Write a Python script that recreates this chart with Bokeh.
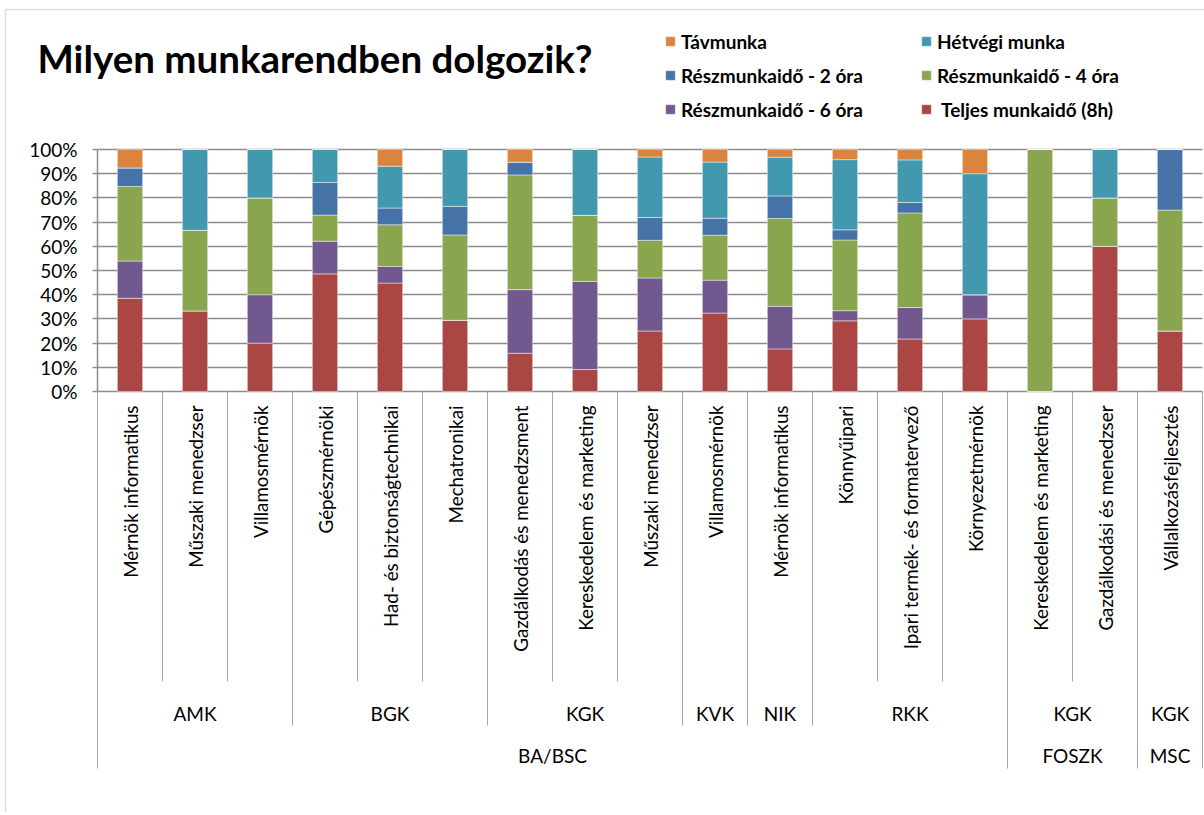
import math
from bokeh.plotting import figure
from bokeh.models import (ColumnDataSource, Range1d, FixedTicker, PrintfTickFormatter,
                          Legend, LegendItem, Label, BoxAnnotation)
from bokeh.core.properties import value
from bokeh.embed import file_html
from bokeh.resources import INLINE

# ---------------- data ----------------
programs = ["BA/BSC"] * 14 + ["FOSZK"] * 2 + ["MSC"]
faculties = ["AMK", "AMK", "AMK", "BGK", "BGK", "BGK", "KGK", "KGK", "KGK",
             "KVK", "NIK", "RKK", "RKK", "RKK", "KGK", "KGK", "KGK"]
majors = ["Mérnök informatikus", "Műszaki menedzser", "Villamosmérnök",
          "Gépészmérnöki", "Had- és biztonságtechnikai", "Mechatronikai",
          "Gazdálkodás és menedzsment", "Kereskedelem és marketing", "Műszaki menedzser",
          "Villamosmérnök", "Mérnök informatikus",
          "Könnyűipari", "Ipari termék- és formatervező", "Környezetmérnök",
          "Kereskedelem és marketing", "Gazdálkodási és menedzser", "Vállalkozásfejlesztés"]

# percentages, stacked bottom -> top
teljes = [38.5, 33.3, 20.0, 48.6, 44.8, 29.4, 15.8, 9.1, 25.0, 32.4, 17.6, 29.2, 21.7, 30.0, 0.0, 60.0, 25.0]
ora6 = [15.4, 0.0, 20.0, 13.5, 6.9, 0.0, 26.3, 36.4, 21.9, 13.6, 17.6, 4.2, 13.0, 10.0, 0.0, 0.0, 0.0]
ora4 = [30.8, 33.3, 40.0, 10.8, 17.2, 35.3, 47.4, 27.3, 15.6, 18.6, 36.3, 29.2, 39.1, 0.0, 100.0, 20.0, 50.0]
ora2 = [7.7, 0.0, 0.0, 13.5, 6.9, 11.8, 5.3, 0.0, 9.4, 7.0, 9.3, 4.2, 4.3, 0.0, 0.0, 0.0, 25.0]
hetvegi = [0.0, 33.4, 20.0, 13.6, 17.3, 23.5, 0.0, 27.2, 25.0, 23.2, 16.0, 29.0, 17.6, 50.0, 0.0, 20.0, 0.0]
tavmunka = [7.6, 0.0, 0.0, 0.0, 6.9, 0.0, 5.2, 0.0, 3.1, 5.2, 3.2, 4.2, 4.3, 10.0, 0.0, 0.0, 0.0]

series_keys = ["teljes", "ora6", "ora4", "ora2", "hetvegi", "tavmunka"]
series_labels = [" Teljes munkaidő (8h)", "Részmunkaidő - 6 óra", "Részmunkaidő - 4 óra",
                 "Részmunkaidő - 2 óra", "Hétvégi munka", "Távmunka"]
series_colors = ["#AA4643", "#71588F", "#89A54E", "#4572A7", "#4198AF", "#DB843D"]

y_ticks = list(range(0, 101, 10))

# ---------------- layout constants (pixels) ----------------
W, H = 1204, 812
AXIS_X = 97            # canvas x of the value axis (left edge of first category)
CAT_W = 65             # pixels per category
TOP_Y = 149            # canvas y of 100%
ZERO_Y = 391           # canvas y of 0%
PPP = (ZERO_Y - TOP_Y) / 100  # pixels per percent

FONT = "Lato"
GRID = "#8c8c8c"
SEP = "#a6a6a6"

n = len(majors)
x_range = Range1d(-AXIS_X / CAT_W, (W - AXIS_X) / CAT_W)
y_range = Range1d(-(H - ZERO_Y) / PPP, 100 + TOP_Y / PPP)

p = figure(width=W, height=H, x_range=x_range, y_range=y_range,
           output_backend="svg", toolbar_location=None, x_axis_location=None,
           min_border_left=0, min_border_top=0, min_border_right=0, min_border_bottom=0)
p.outline_line_color = None
p.background_fill_color = "white"
p.border_fill_color = "white"

ticker = FixedTicker(ticks=y_ticks)
yax = p.yaxis[0]
yax.fixed_location = 0
yax.ticker = ticker
yax.formatter = PrintfTickFormatter(format="%d%%")
yax.bounds = (0, 100)
yax.axis_line_color = GRID
yax.axis_line_width = 1.5
yax.major_tick_line_color = GRID
yax.major_tick_line_width = 1.5
yax.major_tick_out = 5
yax.major_tick_in = 0
yax.minor_tick_line_color = None
yax.major_label_standoff = 15
yax.major_label_text_font = FONT
yax.major_label_text_font_size = "19px"
yax.major_label_text_color = "black"

p.ygrid.ticker = ticker
p.ygrid.bounds = (0, 100)
p.ygrid.cross_bounds = (0, n)
p.ygrid.grid_line_color = GRID
p.ygrid.grid_line_width = 1.5
p.xgrid.visible = False

# ---------------- outer chart border ----------------
p.add_layout(BoxAnnotation(left=5, right=W + 10, top=H - 9, bottom=-10,
                           left_units="screen", right_units="screen",
                           top_units="screen", bottom_units="screen",
                           fill_alpha=0, line_color="#8c8c8c", line_width=1.5))

# ---------------- bars ----------------
data = dict(x=[i + 0.5 for i in range(n)], teljes=teljes, ora6=ora6, ora4=ora4,
            ora2=ora2, hetvegi=hetvegi, tavmunka=tavmunka)
src = ColumnDataSource(data)
rs = p.vbar_stack(series_keys, x="x", width=0.39, source=src,
                  fill_color=series_colors, line_color="white", line_alpha=0.45, line_width=1)

# ---------------- category axis (multi-level, drawn like Excel) ----------------
lab_src = ColumnDataSource(dict(x=[i + 0.5 for i in range(n)], text=majors))
p.text(x="x", y=0, text="text", source=lab_src, angle=math.pi / 2,
       text_align="right", text_baseline="middle", y_offset=14,
       text_font=value(FONT), text_font_size="18.8px", text_color="black")


def runs(keys):
    out = []
    start = 0
    for i in range(1, n + 1):
        if i == n or keys[i] != keys[start]:
            out.append((start, i, keys[start]))
            start = i
    return out


fac_keys = list(zip(programs, faculties))
fac_runs = runs(fac_keys)
prog_runs = runs(programs)

g_src = ColumnDataSource(dict(x=[(a + b) / 2 for a, b, _ in fac_runs],
                              text=[k[1] for _, _, k in fac_runs]))
p.text(x="x", y=0, text="text", source=g_src, y_offset=322,
       text_align="center", text_baseline="middle",
       text_font=value(FONT), text_font_size="19px", text_color="black")
pg_src = ColumnDataSource(dict(x=[(a + b) / 2 for a, b, _ in prog_runs],
                               text=[k for _, _, k in prog_runs]))
p.text(x="x", y=0, text="text", source=pg_src, y_offset=364,
       text_align="center", text_baseline="middle",
       text_font=value(FONT), text_font_size="19px", text_color="black")

# separator lines at category boundaries
DEPTH_CAT, DEPTH_FAC, DEPTH_PROG = 290, 334, 377
sx, sy1 = [], []
for b in range(n + 1):
    if b == 0 or b == n or programs[b] != programs[b - 1]:
        d = DEPTH_PROG
    elif fac_keys[b] != fac_keys[b - 1]:
        d = DEPTH_FAC
    else:
        d = DEPTH_CAT
    sx.append(b)
    sy1.append(-d / PPP)
p.segment(x0=sx, y0=[0] * len(sx), x1=sx, y1=sy1, line_color=SEP, line_width=1)

# ---------------- title ----------------
p.add_layout(Label(x=37, y=H - 57, x_units="screen", y_units="screen",
                   text="Milyen munkarendben dolgozik?", text_font=FONT,
                   text_font_style="bold", text_font_size="38.5px", text_color="black",
                   text_baseline="alphabetic"))

# ---------------- legend (column-major: left column first) ----------------
order = [5, 3, 1, 4, 2, 0]
items = [LegendItem(label=series_labels[i], renderers=[rs[i]]) for i in order]
legend = Legend(items=items, location=(664, H - 121), ncols=2,
                label_text_font=FONT, label_text_font_style="bold",
                label_text_font_size="19px", label_text_color="black",
                glyph_width=12, glyph_height=12, label_standoff=5,
                spacing=10, padding=0, margin=0, label_width=229, label_height=24,
                border_line_color=None, background_fill_alpha=0)
p.add_layout(legend)

open("out.html", "w").write(file_html(p, INLINE))
